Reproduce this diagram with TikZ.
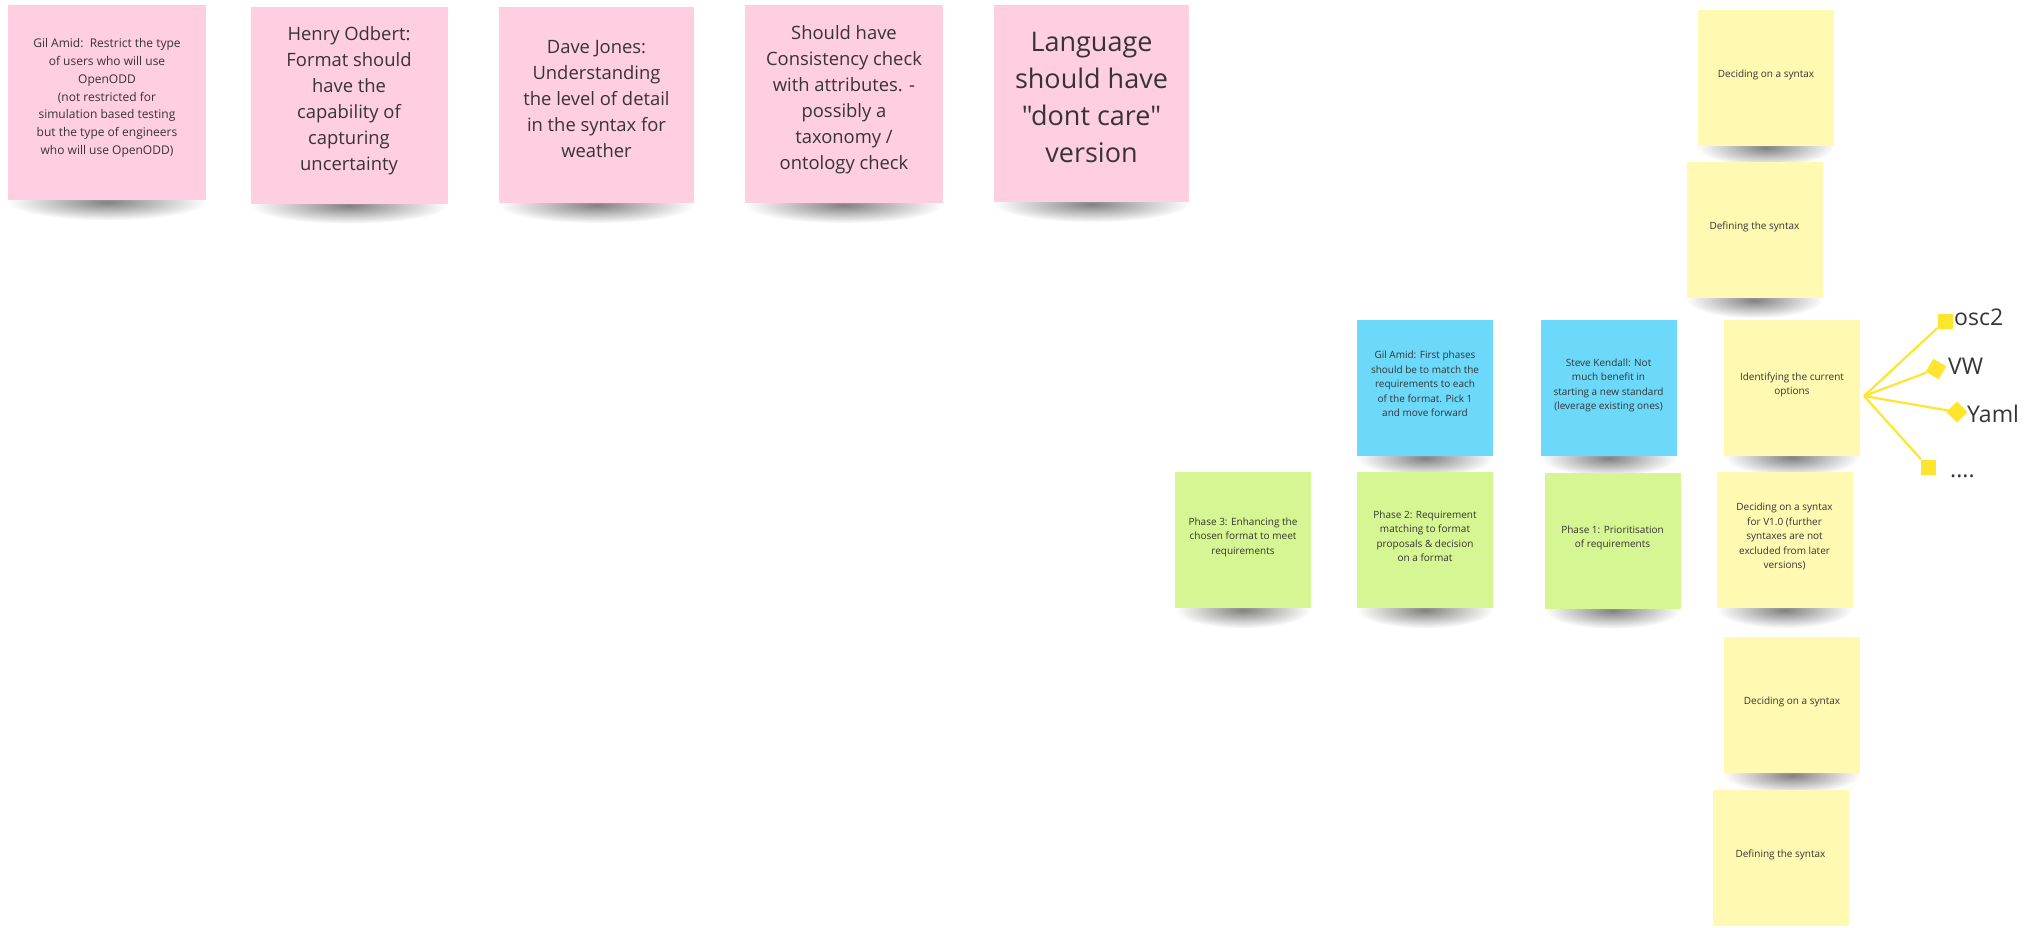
\documentclass[tikz,border=0pt]{standalone}
\usepackage{fontspec}
\setmainfont{Open Sans}[Ligatures=TeXOff]
\usetikzlibrary{fadings,backgrounds}
\definecolor{notepink}{HTML}{FFCEE0}
\definecolor{noteyellow}{HTML}{FFF9B1}
\definecolor{noteblue}{HTML}{6CD8FA}
\definecolor{notegreen}{HTML}{D5F692}
\definecolor{markyellow}{HTML}{FFE52E}
\definecolor{notetext}{HTML}{353535}
\tikzfading[name=shadowfade, inner color=transparent!10, outer color=transparent!100]

\begin{document}
\begin{tikzpicture}[x=1pt, y=-1pt,
    bignote/.style={minimum width=197pt, minimum height=197pt, inner sep=0pt, align=center, text depth=12pt, text=notetext, font=\fontsize{18.4}{26}\selectfont, fill=#1},
    smallnote/.style={minimum width=136pt, minimum height=136pt, inner sep=0pt, align=center, text depth=8pt, text=notetext, font=\fontsize{10}{14.5}\selectfont, fill=#1},
    link/.style={draw=markyellow, line width=2.2pt},
    endbox/.style={fill=markyellow, minimum size=15pt, inner sep=0pt, rotate=#1},
    endbox/.default=0,
    tag/.style={anchor=base west, inner sep=0pt, text=notetext, font=\fontsize{23}{27}\selectfont}
]
\useasboundingbox (0,0) rectangle (2031,927);

% pink notes along the top
\node[bignote=notepink, minimum width=198pt, minimum height=195pt, font=\fontsize{12}{17.8}\selectfont] (gil) at (107,102.5) {Gil Amid:\ \ Restrict the type\\of users who will use\\OpenODD\\(not restricted for\\simulation based testing\\but the type of engineers\\who will use OpenODD)};
\node[bignote=notepink] (henry) at (349,105) {Henry Odbert:\\Format should\\have the\\capability of\\capturing\\uncertainty};
\node[bignote=notepink, minimum width=195pt, minimum height=196pt] (dave) at (596.5,105) {Dave Jones:\\Understanding\\the level of detail\\in the syntax for\\weather};
\node[bignote=notepink, minimum width=198pt, minimum height=198pt] (consist) at (844,104) {Should have\\Consistency check\\with attributes. -\\possibly a\\taxonomy /\\ontology check};
\node[bignote=notepink, minimum width=195pt, font=\fontsize{27}{37}\selectfont] (dontcare) at (1091.5,103.5) {Language\\should have\\"dont care"\\version};

% yellow column
\node[smallnote=noteyellow] (decide) at (1766,77.5) {Deciding on a syntax};
\node[smallnote=noteyellow] (define) at (1754.5,230) {Defining the syntax};
\node[smallnote=noteyellow] (options) at (1792,387.5) {Identifying the current\\options};
\node[smallnote=noteyellow] (vone) at (1784.5,540) {Deciding on a syntax\\for V1.0 (further\\syntaxes are not\\excluded from later\\versions)};
\node[smallnote=noteyellow] (decideb) at (1792,705) {Deciding on a syntax};
\node[smallnote=noteyellow] (defineb) at (1780.5,858) {Defining the syntax};

% comments and phases
\node[smallnote=noteblue] (gilb) at (1425,388) {Gil Amid: First phases\\should be to match the\\requirements to each\\of the format. Pick 1\\and move forward};
\node[smallnote=noteblue] (steve) at (1608.5,388) {Steve Kendall: Not\\much benefit in\\starting a new standard\\(leverage existing ones)};
\node[smallnote=notegreen] (phasethree) at (1243,540) {Phase 3: Enhancing the\\chosen format to meet\\requirements};
\node[smallnote=notegreen] (phasetwo) at (1425,540) {Phase 2: Requirement\\matching to format\\proposals \& decision\\on a format};
\node[smallnote=notegreen] (phaseone) at (1612.5,540.5) {Phase 1: Prioritisation\\of requirements};

% option branches
\coordinate (fork) at (1864,396);
\node[endbox] (osc) at (1945,321) {};
\node[endbox=60] (vw) at (1936,369) {};
\node[endbox=45] (yaml) at (1957,412) {};
\node[endbox] (more) at (1928,467) {};
\node[tag] (osclbl) at (1954,325) {osc2};
\node[tag] (vwlbl) at (1948,374) {VW};
\node[tag] (yamllbl) at (1967,422) {Yaml};
\node[tag] (morelbl) at (1950,477) {....};
\draw[link] (fork) -- (osc);
\draw[link] (fork) -- (vw);
\draw[link] (fork) -- (yaml);
\draw[link] (fork) -- (more);

% shadows under the notes
\begin{pgfonlayer}{background}
\foreach \n/\w in {gil/198, henry/197, dave/195, consist/198, dontcare/195, decide/136, define/135, options/134, vone/135, decideb/136, gilb/136, steve/135, phasethree/134, phasetwo/136, phaseone/135}
  \fill[black, opacity=0.55, path fading=shadowfade] ([yshift=-2pt]\n.south) ellipse [x radius={0.5*\w pt}, y radius=18pt];
\end{pgfonlayer}
\end{tikzpicture}
\end{document}
